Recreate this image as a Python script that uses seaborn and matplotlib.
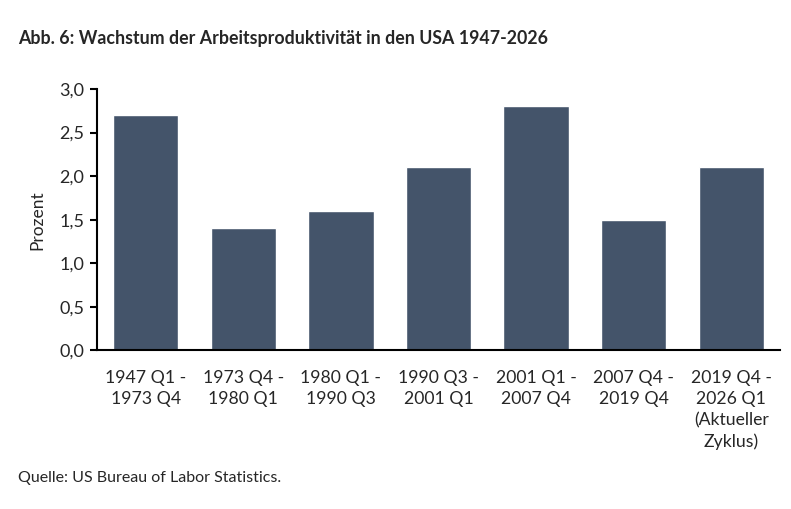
import matplotlib
matplotlib.use("Agg")
import matplotlib.pyplot as plt
import seaborn as sns
import pandas as pd

# Zeiträume und Produktivitätswachstum (Prozent p.a.)
zeitraeume = ["1947 Q1 -\n1973 Q4", "1973 Q4 -\n1980 Q1", "1980 Q1 -\n1990 Q3",
              "1990 Q3 -\n2001 Q1", "2001 Q1 -\n2007 Q4", "2007 Q4 -\n2019 Q4",
              "2019 Q4 -\n2026 Q1\n(Aktueller\nZyklus)"]
wachstum = [2.7, 1.4, 1.6, 2.1, 2.8, 1.5, 2.1]
y_ticks = [0.0, 0.5, 1.0, 1.5, 2.0, 2.5, 3.0]

df = pd.DataFrame({"zeitraum": zeitraeume, "wachstum": wachstum})

sns.set_theme(style="white")
plt.rcParams["font.family"] = ["Lato", "DejaVu Sans"]

fig = plt.figure(figsize=(7.91, 5.09), dpi=100)
ax = fig.add_axes([0.1226, 0.3114, 0.8635, 0.5137])

sns.barplot(data=df, x="zeitraum", y="wachstum", color="#44546A",
            saturation=1, width=0.67, ax=ax)

ax.set_ylim(0, 3.0)
ax.set_yticks(y_ticks)
ax.set_yticklabels([f"{v:.1f}".replace(".", ",") for v in y_ticks], fontsize=13)
ax.tick_params(axis="y", length=5, width=1.5, color="black", direction="out", pad=4, left=True)
ax.tick_params(axis="x", length=0, pad=14, labelsize=12.7)
ax.set_xlabel("")
ax.set_ylabel("Prozent", fontsize=12.5, labelpad=10)

sns.despine(ax=ax)
ax.spines["left"].set_linewidth(1.5)
ax.spines["bottom"].set_linewidth(1.5)
ax.spines["left"].set_color("black")
ax.spines["bottom"].set_color("black")

for lbl in ax.get_xticklabels():
    lbl.set_linespacing(1.38)

fig.text(0.023, 0.925, "Abb. 6: Wachstum der Arbeitsproduktivität in den USA 1947-2026",
         fontsize=12.8, fontweight="bold", ha="left", va="center")
fig.text(0.023, 0.06, "Quelle: US Bureau of Labor Statistics.",
         fontsize=11.5, ha="left", va="center")

fig.savefig("out.png", dpi=100)
